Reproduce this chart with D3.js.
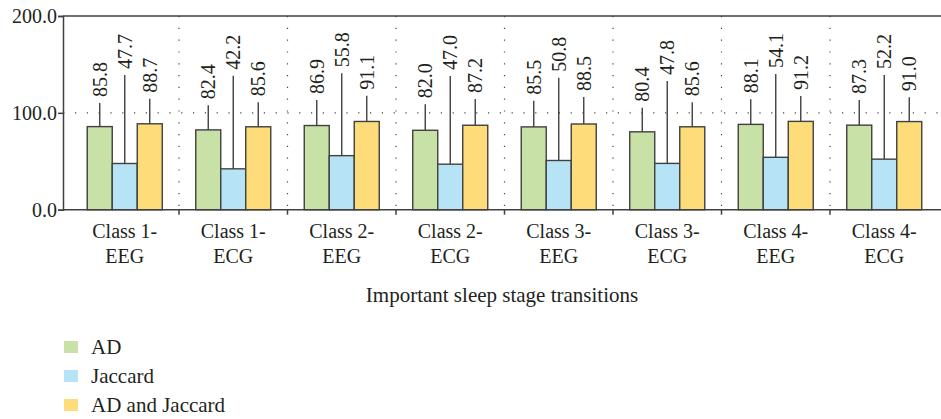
<!DOCTYPE html>
<html lang="en">
<head>
<meta charset="UTF-8">
<script src="https://cdn.jsdelivr.net/npm/d3@7"></script>
<style>
  body { margin: 0; background: #fff; }
  text { font-family: "Liberation Serif", "DejaVu Serif", serif; fill: #231f20; }
</style>
</head>
<body>
<script>
const w = 941;
const h = 419;

const categories = ["Class 1-\nEEG", "Class 1-\nECG", "Class 2-\nEEG", "Class 2-\nECG",
                    "Class 3-\nEEG", "Class 3-\nECG", "Class 4-\nEEG", "Class 4-\nECG"];
const series = ["AD", "Jaccard", "AD and Jaccard"];
const colors = ["#c7e1a6", "#b6e4f6", "#fddc79"];

const adValues      = [85.8, 82.4, 86.9, 82.0, 85.5, 80.4, 88.1, 87.3];
const jaccardValues = [47.7, 42.2, 55.8, 47.0, 50.8, 47.8, 54.1, 52.2];
const bothValues    = [88.7, 85.6, 91.1, 87.2, 88.5, 85.6, 91.2, 91.0];

// upper error bar lengths
const adErrors      = [24.4, 25.4, 26.4, 26.8, 27.0, 24.9, 25.9, 26.0];
const jaccardErrors = [91.4, 96.0, 85.0, 91.0, 85.5, 85.1, 86.0, 86.9];
const bothErrors    = [25.9, 25.3, 26.6, 27.1, 27.9, 25.3, 26.2, 25.1];

const yTicks = [0, 100, 200];
const xTitle = "Important sleep stage transitions";

const values = [adValues, jaccardValues, bothValues];
const errors = [adErrors, jaccardErrors, bothErrors];

const plotLeft = 63, plotTop = 16, plotBottom = 209.7, plotRight = 941;

const svg = d3.select("body").append("svg")
  .attr("width", w)
  .attr("height", h);

const x = d3.scaleBand()
  .domain(categories)
  .range([70.5, 938.5])
  .padding(0);

const xSub = d3.scaleBand()
  .domain(series)
  .range([0, x.bandwidth()])
  .paddingInner(0)
  .paddingOuter(0.67);

const y = d3.scaleLinear()
  .domain([0, 200])
  .range([plotBottom, plotTop]);

// dotted gridlines
svg.append("g")
  .selectAll("line")
  .data(categories.slice(0, -1))
  .enter()
  .append("line")
  .attr("x1", d => x(d) + x.step())
  .attr("x2", d => x(d) + x.step())
  .attr("y1", plotTop)
  .attr("y2", plotBottom)
  .attr("stroke", "#444")
  .attr("stroke-width", 1.2)
  .attr("stroke-dasharray", "1.2,10.6");

svg.append("line")
  .attr("x1", plotLeft)
  .attr("x2", plotRight)
  .attr("y1", y(100))
  .attr("y2", y(100))
  .attr("stroke", "#444")
  .attr("stroke-width", 1.2)
  .attr("stroke-dasharray", "1.2,10.6")
  .attr("stroke-dashoffset", -12);

// top border
svg.append("line")
  .attr("x1", plotLeft)
  .attr("x2", plotRight)
  .attr("y1", plotTop)
  .attr("y2", plotTop)
  .attr("stroke", "#404040")
  .attr("stroke-width", 1.5);

// bars, error bars and value labels
series.forEach((s, si) => {
  const g = svg.append("g");
  g.selectAll("rect")
    .data(categories)
    .enter()
    .append("rect")
    .attr("x", d => x(d) + xSub(s))
    .attr("y", (d, i) => y(values[si][i]))
    .attr("width", xSub.bandwidth())
    .attr("height", (d, i) => plotBottom - y(values[si][i]))
    .attr("fill", colors[si])
    .attr("stroke", "#404040")
    .attr("stroke-width", 1.4);

  g.selectAll("line")
    .data(categories)
    .enter()
    .append("line")
    .attr("x1", d => x(d) + xSub(s) + xSub.bandwidth() / 2)
    .attr("x2", d => x(d) + xSub(s) + xSub.bandwidth() / 2)
    .attr("y1", (d, i) => y(values[si][i]))
    .attr("y2", (d, i) => y(values[si][i] + errors[si][i]))
    .attr("stroke", "#404040")
    .attr("stroke-width", 1.4);

  g.selectAll("text")
    .data(categories)
    .enter()
    .append("text")
    .attr("transform", (d, i) => {
      const cx = x(d) + xSub(s) + xSub.bandwidth() / 2;
      const cy = y(values[si][i] + errors[si][i]) - 6;
      return "translate(" + cx + "," + cy + ") rotate(-90)";
    })
    .attr("dy", "0.35em")
    .style("font-size", "20px")
    .text((d, i) => values[si][i].toFixed(1));
});

// axes
const yAxis = d3.axisLeft(y)
  .tickValues(yTicks)
  .tickSize(5)
  .tickFormat(d3.format(".1f"));

const yG = svg.append("g")
  .attr("transform", "translate(" + plotLeft + ",0)")
  .call(yAxis);
yG.select(".domain").attr("stroke", "#404040").attr("stroke-width", 1.5);
yG.selectAll(".tick line").attr("stroke", "#404040").attr("stroke-width", 1.5);
yG.selectAll(".tick text")
  .attr("x", -6)
  .style("font-size", "20px")
  .style("font-family", "Liberation Serif, serif")
  .attr("fill", "#231f20");

svg.append("line")
  .attr("x1", plotLeft)
  .attr("x2", plotRight)
  .attr("y1", plotBottom)
  .attr("y2", plotBottom)
  .attr("stroke", "#404040")
  .attr("stroke-width", 1.5);

// x ticks at band boundaries
svg.append("g")
  .selectAll("line")
  .data(categories.slice(0, -1))
  .enter()
  .append("line")
  .attr("x1", d => x(d) + x.step())
  .attr("x2", d => x(d) + x.step())
  .attr("y1", plotBottom)
  .attr("y2", plotBottom + 5)
  .attr("stroke", "#404040")
  .attr("stroke-width", 1.5);

// category labels
svg.append("g")
  .selectAll("text")
  .data(categories)
  .enter()
  .append("text")
  .attr("x", d => x(d) + x.bandwidth() / 2)
  .attr("y", 238)
  .attr("text-anchor", "middle")
  .style("font-size", "20px")
  .each(function(d) {
    const lines = d.split("\n");
    d3.select(this).selectAll("tspan")
      .data(lines)
      .enter()
      .append("tspan")
      .attr("x", x(d) + x.bandwidth() / 2)
      .attr("dy", (l, i) => i === 0 ? 0 : 25)
      .text(l => l);
  });

svg.append("text")
  .attr("x", (plotLeft + plotRight) / 2)
  .attr("y", 302)
  .attr("text-anchor", "middle")
  .style("font-size", "21px")
  .text(xTitle);

// legend
const legend = svg.append("g");
legend.selectAll("rect")
  .data(series)
  .enter()
  .append("rect")
  .attr("x", 64)
  .attr("y", (d, i) => 341 + i * 29)
  .attr("width", 14)
  .attr("height", 12)
  .attr("fill", (d, i) => colors[i]);

legend.selectAll("text")
  .data(series)
  .enter()
  .append("text")
  .attr("x", 91)
  .attr("y", (d, i) => 347 + i * 29)
  .attr("dy", "0.35em")
  .style("font-size", "21px")
  .text(d => d);
</script>
</body>
</html>
